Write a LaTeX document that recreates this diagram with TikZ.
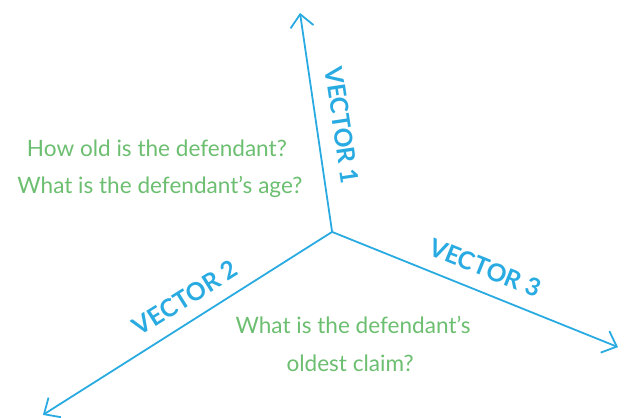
\documentclass[tikz,border=0pt]{standalone}
\usepackage{fontspec}
\setmainfont{Lato}
\usepackage{tikz}
\usetikzlibrary{arrows.meta, positioning}
\definecolor{VectorColor}{RGB}{41,171,226}
\definecolor{QueryColor}{RGB}{108,190,112}
\tikzset{
  vector/.style={VectorColor, line width=1.7pt, -{Straight Barb[length=12pt, width=22pt, line width=1.7pt]}},
  vector label/.style={VectorColor, inner sep=0pt, font=\fontsize{23.4}{28}\selectfont\bfseries},
  query/.style={QueryColor, inner sep=0pt, font=\fontsize{21.4}{26}\selectfont}
}
\begin{document}
\begin{tikzpicture}
    \useasboundingbox (0,0) rectangle (20.8,13.9);

    % Common origin and vector tips
    \coordinate (origin) at (11.07,6.17);
    \coordinate (tip1) at (10.0,13.47);
    \coordinate (tip2) at (1.43,0.07);
    \coordinate (tip3) at (20.6,2.33);

    % Vectors
    \draw[vector] (origin) -- (tip1);
    \draw[vector] (origin) -- (tip2);
    \draw[vector] (origin) -- (tip3);

    % Vector labels
    \node[vector label, rotate=-81.5] (label1) at (11.4,9.73) {VECTOR 1};
    \node[vector label, rotate=32] (label2) at (6.17,3.97) {VECTOR 2};
    \node[vector label, rotate=-22] (label3) at (16.17,4.97) {VECTOR 3};

    % Questions
    \node[query] (age1) at (5.23,8.97) {How old is the defendant?};
    \node[query] (age2) at (5.33,7.67) {What is the defendant’s age?};
    \node[query] (claim1) at (11.77,3.07) {What is the defendant’s};
    \node[query] (claim2) at (11.67,1.8) {oldest claim?};
\end{tikzpicture}
\end{document}
